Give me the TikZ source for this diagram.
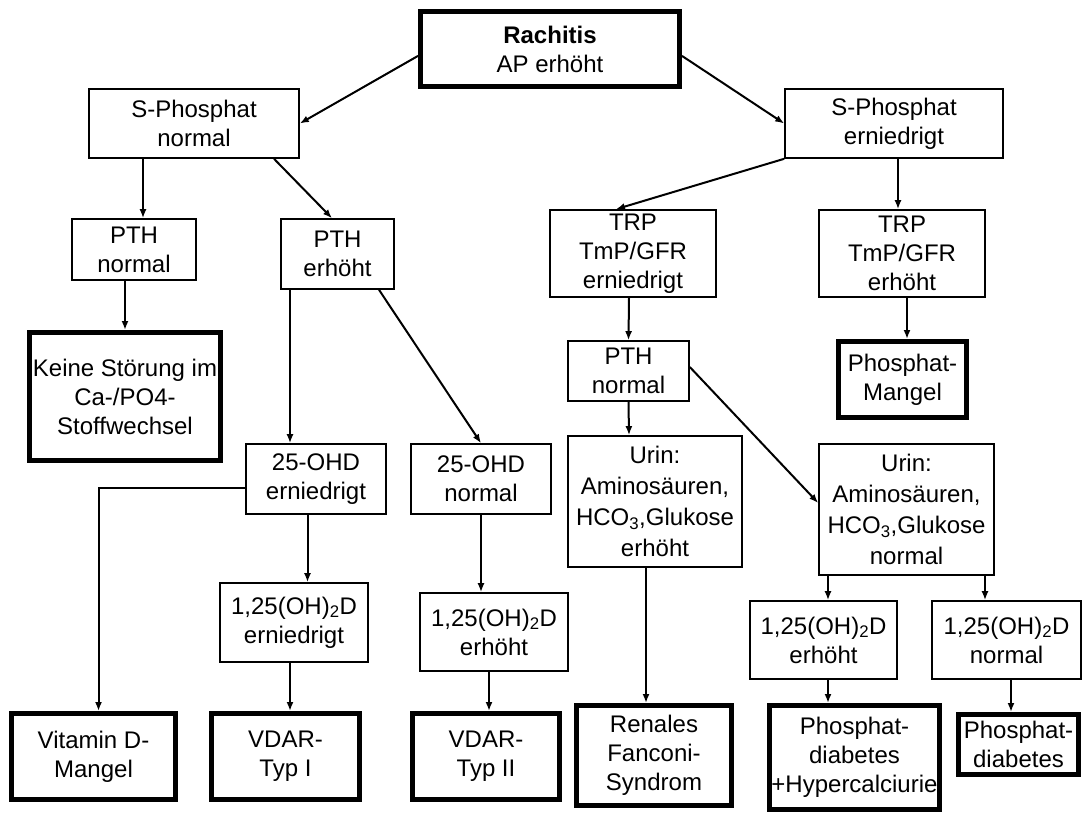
\documentclass[tikz,border=0pt]{standalone}
\usepackage{fontspec}
\setmainfont{Liberation Sans}
\usetikzlibrary{arrows.meta}

\tikzset{befund/.style={draw,line width=1.6pt,align=center,inner sep=0pt,font=\fontsize{24}{29}\selectfont},
diagnose/.style={befund,line width=5pt},
pfeil/.style={-{Latex[length=9pt,width=7pt]},line width=2pt}}

\begin{document}
\begin{tikzpicture}[x=1pt,y=-1pt]
        \useasboundingbox (0,0) rectangle (1082,813);
        % Ausgangsbefund
        \node[diagnose,minimum width=259,minimum height=75] (rach) at (550,49) {\textbf{Rachitis}\\AP erhöht};
        \node[befund,minimum width=210,minimum height=69] (spn) at (194,123.5) {S-Phosphat\\normal};
        \node[befund,minimum width=218,minimum height=69] (spe) at (894,123.5) {S-Phosphat\\erniedrigt};
        % linker Ast
        \node[befund,minimum width=124,minimum height=61] (pthn1) at (134,249.5) {PTH\\normal};
        \node[befund,minimum width=113,minimum height=70] (pthe) at (337.5,254) {PTH\\erhöht};
        \node[diagnose,minimum width=191,minimum height=128] (keine) at (125,396.5) {Keine Störung im\\Ca-/PO4-\\Stoffwechsel};
        \node[befund,minimum width=140,minimum height=70] (ohde) at (316,479) {25-OHD\\erniedrigt};
        \node[befund,minimum width=140,minimum height=70] (ohdn) at (481,479) {25-OHD\\normal};
        \node[befund,minimum width=148,minimum height=79] (de) at (294,622.5) {1,25(OH)\textsubscript{2}D\\erniedrigt};
        \node[befund,minimum width=148,minimum height=78] (dh1) at (494,632) {1,25(OH)\textsubscript{2}D\\erhöht};
        \node[diagnose,minimum width=164,minimum height=86] (vitd) at (93.5,756.5) {Vitamin D-\\Mangel};
        \node[diagnose,minimum width=148,minimum height=86] (vdar1) at (285.5,756.5) {VDAR-\\Typ I};
        \node[diagnose,minimum width=147,minimum height=86] (vdar2) at (486,756.5) {VDAR-\\Typ II};
        % rechter Ast
        \node[befund,minimum width=166,minimum height=87] (trpe) at (633,253.5) {TRP\\TmP/GFR\\erniedrigt};
        \node[befund,minimum width=166,minimum height=87] (trph) at (902,253.5) {TRP\\TmP/GFR\\erhöht};
        \node[diagnose,minimum width=128,minimum height=76] (pmangel) at (902.5,379.5) {Phosphat-\\Mangel};
        \node[befund,minimum width=121,minimum height=60] (pthn2) at (628.5,371) {PTH\\normal};
        \node[befund,minimum width=174,minimum height=131,font=\fontsize{24}{31}\selectfont] (urine) at (655,501.5) {Urin:\\Aminosäuren,\\HCO\textsubscript{3},Glukose\\erhöht};
        \node[befund,minimum width=175,minimum height=131,font=\fontsize{24}{31}\selectfont] (urinn) at (906.5,509.5) {Urin:\\Aminosäuren,\\HCO\textsubscript{3},Glukose\\normal};
        \node[befund,minimum width=147,minimum height=78] (dh2) at (823.5,640) {1,25(OH)\textsubscript{2}D\\erhöht};
        \node[befund,minimum width=149,minimum height=78] (dn) at (1006.5,640) {1,25(OH)\textsubscript{2}D\\normal};
        \node[diagnose,minimum width=155,minimum height=100] (fanconi) at (654,755.5) {Renales\\Fanconi-\\Syndrom};
        \node[diagnose,minimum width=170,minimum height=104] (pdh) at (854.5,757.5) {Phosphat-\\diabetes\\+Hypercalciurie};
        \node[diagnose,minimum width=120,minimum height=60] (pd) at (1018.5,744.5) {Phosphat-\\diabetes};
        % Pfeile
        \draw[pfeil] (rach.183) -- (spn.east);
        \draw[pfeil] (rach.357) -- (spe.west);
        \draw[pfeil] ([xshift=-51pt]spn.south) -- ([xshift=9pt]pthn1.north);
        \draw[pfeil] ([xshift=80pt]spn.south) -- ([xshift=-5.5pt]pthe.north);
        \draw[pfeil] (pthn1.south -| keine.north) -- (keine.north);
        \draw[pfeil] ([xshift=-47.5pt]pthe.south) -- ([xshift=-26pt]ohde.north);
        \draw[pfeil] ([xshift=41.5pt]pthe.south) -- (ohdn.north);
        \draw[pfeil] ([yshift=-9pt]ohde.west) -| ([xshift=5pt]vitd.north);
        \draw[pfeil] ([xshift=-8.5pt]ohde.south) -- ([xshift=13.5pt]de.north);
        \draw[pfeil] ([xshift=-4pt]de.south) -- ([xshift=4.5pt]vdar1.north);
        \draw[pfeil] (ohdn.south) -- ([xshift=-13pt]dh1.north);
        \draw[pfeil] ([xshift=-5pt]dh1.south) -- ([xshift=3pt]vdar2.north);
        \draw[pfeil] (spe.south west) -- ([xshift=-17pt]trpe.north);
        \draw[pfeil] ([xshift=4pt]spe.south) -- ([xshift=-4pt]trph.north);
        \draw[pfeil] ([xshift=5pt]trph.south) -- ([xshift=4.5pt]pmangel.north);
        \draw[pfeil] ([xshift=-4pt]trpe.south) -- (pthn2.north);
        \draw[pfeil] (pthn2.south) -- ([xshift=-26pt]urine.north);
        \draw[pfeil] ([yshift=4pt]pthn2.east) -- ([yshift=6.5pt]urinn.west);
        \draw[pfeil] ([xshift=-9pt]urine.south) -- ([xshift=-8pt]fanconi.north);
        \draw[pfeil] ([xshift=-78.5pt]urinn.south) -- ([xshift=4.5pt]dh2.north);
        \draw[pfeil] ([xshift=78.5pt]urinn.south) -- ([xshift=-21.5pt]dn.north);
        \draw[pfeil] ([xshift=4.5pt]dh2.south) -- ([xshift=-26.5pt]pdh.north);
        \draw[pfeil] ([xshift=4.5pt]dn.south) -- ([xshift=-7.5pt]pd.north);
    \end{tikzpicture}
\end{document}
